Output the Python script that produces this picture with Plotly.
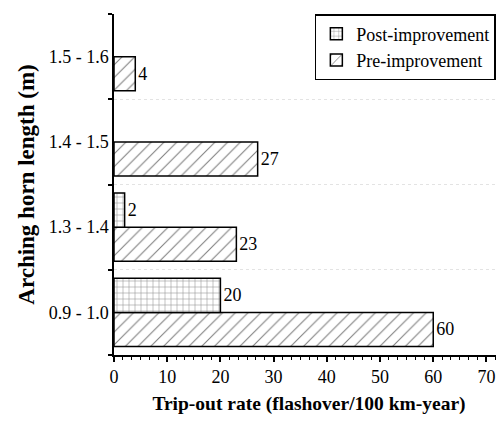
import plotly.graph_objects as go

categories = ["0.9 - 1.0", "1.3 - 1.4", "1.4 - 1.5", "1.5 - 1.6"]
pre_values = [60, 23, 27, 4]
post_values = [20, 2, None, None]
x_ticks = [0, 10, 20, 30, 40, 50, 60, 70]

FONT = "Liberation Serif"

fig = go.Figure()
fig.add_trace(go.Bar(
    y=categories, x=pre_values, orientation="h", name="Pre-improvement",
    marker=dict(color="white", line=dict(color="black", width=1.5),
                pattern=dict(shape="/", fgcolor="black", bgcolor="white", size=9, solidity=0.12)),
    text=pre_values, textposition="outside", cliponaxis=False,
    textfont=dict(family=FONT, size=18, color="black"),
))
fig.add_trace(go.Bar(
    y=categories, x=post_values, orientation="h", name="Post-improvement",
    marker=dict(color="white", line=dict(color="black", width=1.5),
                pattern=dict(shape="+", fgcolor="black", bgcolor="white", size=6, solidity=0.15)),
    text=post_values, textposition="outside", cliponaxis=False,
    textfont=dict(family=FONT, size=18, color="black"),
))

# page body has an 8px default margin: size the figure so it fills the window exactly
fig.update_layout(
    width=496, height=416,
    margin=dict(l=106, r=0, t=6, b=69),
    paper_bgcolor="white", plot_bgcolor="white",
    barmode="group", bargap=0.2, bargroupgap=0,
    font=dict(family=FONT, size=18, color="black"),
    showlegend=True,
    legend=dict(x=0.515, y=1.0, xanchor="left", yanchor="top",
                traceorder="reversed", bordercolor="black", borderwidth=1.5,
                bgcolor="white", font=dict(family=FONT, size=18),
                tracegroupgap=0, itemwidth=30),
    xaxis=dict(range=[0, 73.3], tickvals=x_ticks, showgrid=False, zeroline=False,
               automargin=False,
               showline=True, linecolor="black", linewidth=1.5,
               ticks="outside", ticklen=5, tickwidth=1.5, tickcolor="black",
               minor=dict(dtick=10/6, ticks="outside", ticklen=3, tickwidth=1, tickcolor="black"),
               title=dict(text="<b>Trip-out rate (flashover/100 km-year)</b>",
                          font=dict(family=FONT, size=19.5), standoff=10),
               tickfont=dict(family=FONT, size=18)),
    yaxis=dict(type="category", categoryorder="array", categoryarray=categories,
               automargin=False,
               tickson="boundaries", showgrid=True, gridcolor="#e3e3e3", griddash="dot",
               showline=True, linecolor="black", linewidth=1.5,
               ticks="outside", ticklen=4, tickwidth=1.5, tickcolor="black",
               title=dict(text="<b>Arching horn length (m)</b>",
                          font=dict(family=FONT, size=23), standoff=8),
               tickfont=dict(family=FONT, size=18)),
)

fig.write_html("out.html")
